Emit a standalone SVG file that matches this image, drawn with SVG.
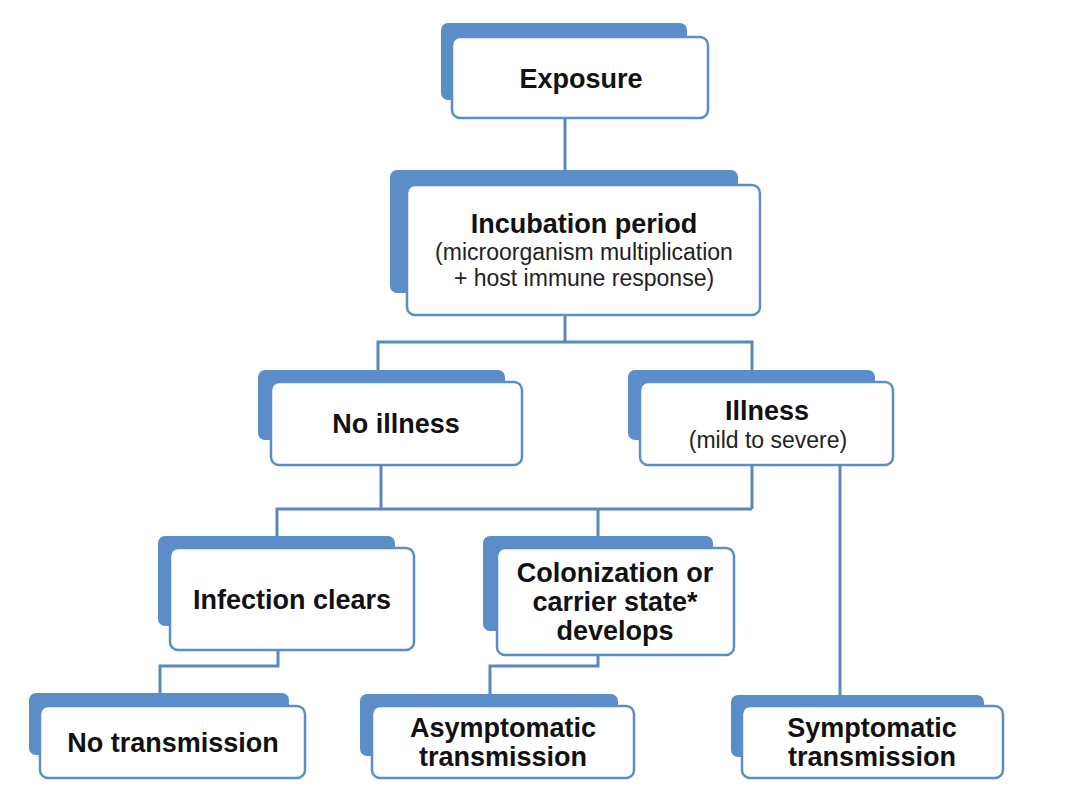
<svg xmlns="http://www.w3.org/2000/svg" width="1076" height="808" viewBox="0 0 1076 808">
<style>
.back{fill:#5b8ec9}
.front{fill:#fff;stroke:#5b8ec9;stroke-width:2.5}
.t{font-family:"Liberation Sans",Arial,sans-serif;font-weight:bold;font-size:27px;fill:#111;text-anchor:middle}
.s{font-family:"Liberation Sans",Arial,sans-serif;font-size:23px;fill:#222;text-anchor:middle}
.c{fill:none;stroke:#5a87bd;stroke-width:3}
</style>
<rect width="1076" height="808" fill="#fff"/>
<g id="connectors" class="c">
<path d="M565 118V185"/>
<path d="M565 315V342"/>
<path d="M378 382V342H752V382"/>
<path d="M381 465V509"/>
<path d="M752 465V509"/>
<path d="M277 548V509H752"/>
<path d="M598 509V548"/>
<path d="M840 465V706"/>
<path d="M278 650V666H160V706"/>
<path d="M598 655V666H490V706"/>
</g>
<g id="exposure">
<rect class="back" x="441" y="23" width="246" height="77" rx="7"/>
<rect class="front" x="452" y="37" width="256" height="81" rx="8"/>
<text class="t" x="581" y="88">Exposure</text>
</g>
<g id="incubation">
<rect class="back" x="390" y="170" width="348" height="123" rx="7"/>
<rect class="front" x="407" y="185" width="353" height="130" rx="8"/>
<text class="t" x="584" y="233">Incubation period</text>
<text class="s" x="584" y="260">(microorganism multiplication</text>
<text class="s" x="584" y="286">+ host immune response)</text>
</g>
<g id="no-illness">
<rect class="back" x="258" y="370" width="247" height="70" rx="7"/>
<rect class="front" x="271" y="382" width="251" height="83" rx="8"/>
<text class="t" x="396" y="433">No illness</text>
</g>
<g id="illness">
<rect class="back" x="628" y="370" width="247" height="70" rx="7"/>
<rect class="front" x="640" y="382" width="253" height="83" rx="8"/>
<text class="t" x="767" y="420">Illness</text>
<text class="s" x="768" y="448">(mild to severe)</text>
</g>
<g id="infection-clears">
<rect class="back" x="158" y="536" width="237" height="90" rx="7"/>
<rect class="front" x="170" y="548" width="244" height="102" rx="8"/>
<text class="t" x="292" y="609">Infection clears</text>
</g>
<g id="colonization">
<rect class="back" x="483" y="536" width="230" height="95" rx="7"/>
<rect class="front" x="497" y="548" width="237" height="107" rx="8"/>
<text class="t" x="615" y="582">Colonization or</text>
<text class="t" x="615" y="611">carrier state*</text>
<text class="t" x="615" y="640">develops</text>
</g>
<g id="no-transmission">
<rect class="back" x="29" y="693" width="260" height="62" rx="7"/>
<rect class="front" x="40" y="706" width="265" height="72" rx="8"/>
<text class="t" x="173" y="752">No transmission</text>
</g>
<g id="asymptomatic">
<rect class="back" x="360" y="694" width="258" height="62" rx="7"/>
<rect class="front" x="372" y="706" width="262" height="72" rx="8"/>
<text class="t" x="503" y="737">Asymptomatic</text>
<text class="t" x="503" y="766">transmission</text>
</g>
<g id="symptomatic">
<rect class="back" x="731" y="695" width="253" height="62" rx="7"/>
<rect class="front" x="742" y="706" width="261" height="72" rx="8"/>
<text class="t" x="872" y="737">Symptomatic</text>
<text class="t" x="872" y="766">transmission</text>
</g>
</svg>
